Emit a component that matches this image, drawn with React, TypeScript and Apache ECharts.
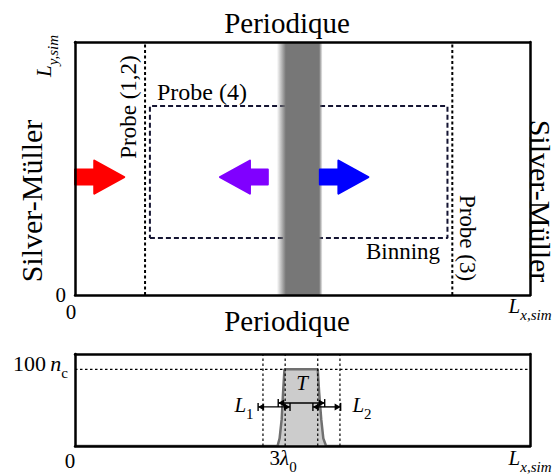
import React, { useEffect, useRef } from "react";
import * as echarts from "echarts";

// ---------- data (x in units of lambda_0, top y in units of L_y, bottom y in n_c) ----------
const LX = 6.56;
const LY = 1;
const N_MAX = 120;
const TOP_X_TICKS = [0, LX];
const TOP_Y_TICKS = [0];
const BOTTOM_X_TICKS = [0, 3, LX];
const BOTTOM_Y_TICKS = [100];

const PROBE_X = [1.01, 5.44]; // Probe (1,2) and Probe (3)
const BINNING_X = [1.08, 5.37];
const BINNING_Y = [0.225, 0.747];
const BAND_X = [2.91, 3.04, 3.52, 3.57]; // fade-in start, solid start, solid end, fade-out end

const ARROW_TAIL = [0, 2.78, 3.53];
const ARROW_TIP = [0.71, 2.09, 4.23];
const ARROW_Y = [0.466, 0.466, 0.466];

const PROFILE_X = [0, 2.92, 2.95, 2.98, 3.0, 3.02, 3.5, 3.52, 3.55, 3.58, 3.62, LX];
const PROFILE_N = [0, 0, 10, 35, 70, 100, 100, 70, 35, 10, 0, 0];
const DENSITY_LEVEL = 100;
const GUIDE_X = [2.71, 3.03, 3.5, 3.82];

const DIM_X0 = [2.93, 2.64, 3.43]; // T, L1, L2
const DIM_X1 = [3.6, 3.1, 3.83];
const DIM_N = [56, 51, 51];

// ---------- styles ----------
const FONT = '"Liberation Serif", "Times New Roman", serif';
const ARROW_COLORS = ["#ff0000", "#8000ff", "#0000ff"];

function mathRich(size: number) {
  const base = { fontFamily: FONT, color: "#000", fill: "#000", verticalAlign: "bottom" };
  const s = Math.round(size * 0.7);
  const drop = Math.round(size * 0.28);
  return {
    it: { ...base, fontStyle: "italic", fontSize: size, lineHeight: size, padding: [0, 0, drop, 0] },
    up: { ...base, fontSize: size, lineHeight: size, padding: [0, 0, drop, 0] },
    zero: { ...base, fontSize: size, lineHeight: size, padding: [0, 8, 0, 0] },
    zeroB: { ...base, fontSize: size, lineHeight: size, padding: [0, 10, 3, 0] },
    sub: { ...base, fontStyle: "italic", fontSize: s, lineHeight: s },
    subup: { ...base, fontSize: s, lineHeight: s },
  };
}

function frameAxes(gridIndex: number, min: number, max: number, kind: "x" | "y") {
  const common = {
    gridIndex,
    type: "value",
    min,
    max,
    z: 10,
    axisTick: { show: false },
    splitLine: { show: false },
    axisLine: { show: true, onZero: false, lineStyle: { color: "#000", width: 2.5 } },
  };
  return [
    { ...common, position: kind === "x" ? "bottom" : "left" },
    { ...common, position: kind === "x" ? "top" : "right", axisLabel: { show: false } },
  ];
}

function buildOption() {
  const topX = frameAxes(0, 0, LX, "x");
  const topY = frameAxes(0, 0, LY, "y");
  const botX = frameAxes(1, 0, LX, "x");
  const botY = frameAxes(1, 0, N_MAX, "y");

  (topX[0] as any).axisLabel = {
    customValues: TOP_X_TICKS,
    margin: 6,
    fontFamily: FONT,
    fontSize: 21,
    color: "#000",
    formatter: (v: number) => (v === 0 ? "{zero|0}" : "{it|L}{sub|x,sim}"),
    rich: mathRich(21),
  };
  (topY[0] as any).axisLabel = {
    customValues: TOP_Y_TICKS,
    margin: 9,
    fontFamily: FONT,
    fontSize: 21,
    color: "#000",
    formatter: () => "0",
  };
  (botX[0] as any).axisLabel = {
    customValues: BOTTOM_X_TICKS,
    margin: 7,
    fontFamily: FONT,
    fontSize: 21,
    color: "#000",
    formatter: (v: number) =>
      v === 0 ? "{zeroB|0}" : v === 3 ? "{up|3}{it|λ}{subup|0}" : "{it|L}{sub|x,sim}",
    rich: mathRich(21),
  };
  (botY[0] as any).axisLabel = {
    customValues: BOTTOM_Y_TICKS,
    margin: 7,
    fontFamily: FONT,
    fontSize: 22,
    color: "#000",
    formatter: (v: number) => `{up|${v}\u2009}{it|n}{subup|c}`,
    rich: mathRich(22),
  };

  const series: any[] = [];

  // probes (vertical dotted lines)
  PROBE_X.forEach((x) =>
    series.push({
      type: "line",
      xAxisIndex: 0,
      yAxisIndex: 0,
      data: [
        [x, 0],
        [x, LY],
      ],
      symbol: "none",
      lineStyle: { color: "#000", width: 2, type: [3, 2.5] },
      z: 3,
    })
  );
  // binning rectangle
  series.push({
    type: "line",
    xAxisIndex: 0,
    yAxisIndex: 0,
    data: [
      [BINNING_X[0], BINNING_Y[0]],
      [BINNING_X[1], BINNING_Y[0]],
      [BINNING_X[1], BINNING_Y[1]],
      [BINNING_X[0], BINNING_Y[1]],
      [BINNING_X[0], BINNING_Y[0]],
    ],
    symbol: "none",
    lineStyle: { color: "#141432", width: 2, type: [5, 3] },
    z: 3,
  });
  // gray target band
  series.push({
    type: "custom",
    xAxisIndex: 0,
    yAxisIndex: 0,
    z: 4,
    data: [[BAND_X[0], 0]],
    renderItem: (_p: any, api: any) => {
      const xs = BAND_X.map((v) => api.coord([v, 0])[0]);
      const yTop = api.coord([0, LY])[1];
      const yBot = api.coord([0, 0])[1];
      const w = xs[3] - xs[0];
      return {
        type: "rect",
        shape: { x: xs[0], y: yTop, width: w, height: yBot - yTop },
        style: {
          fill: new echarts.graphic.LinearGradient(0, 0, 1, 0, [
            { offset: 0, color: "rgba(119,119,119,0)" },
            { offset: (xs[1] - xs[0]) / w, color: "#777777" },
            { offset: (xs[2] - xs[0]) / w, color: "#777777" },
            { offset: 1, color: "rgba(119,119,119,0)" },
          ]),
        },
      };
    },
  });
  // block arrows
  series.push({
    type: "custom",
    xAxisIndex: 0,
    yAxisIndex: 0,
    z: 5,
    data: ARROW_TAIL.map((t, i) => [t, ARROW_TIP[i], ARROW_Y[i], i]),
    renderItem: (_p: any, api: any) => {
      const p0 = api.coord([api.value(0), api.value(2)]);
      const p1 = api.coord([api.value(1), api.value(2)]);
      const idx = api.value(3);
      const dir = p1[0] > p0[0] ? 1 : -1;
      const bx = p1[0] - dir * 30;
      const y = p0[1];
      const hs = 7.5;
      const hh = 16.5;
      return {
        type: "polygon",
        shape: {
          points: [
            [p0[0], y - hs],
            [bx, y - hs],
            [bx, y - hh],
            [p1[0], y],
            [bx, y + hh],
            [bx, y + hs],
            [p0[0], y + hs],
          ],
        },
        style: { fill: ARROW_COLORS[idx], stroke: ARROW_COLORS[idx], lineWidth: 2, lineJoin: "round" },
      };
    },
  });

  // bottom panel: guides
  series.push({
    type: "line",
    xAxisIndex: 2,
    yAxisIndex: 2,
    data: [
      [0, DENSITY_LEVEL],
      [LX, DENSITY_LEVEL],
    ],
    symbol: "none",
    lineStyle: { color: "#000", width: 1.2, type: [2.5, 2.5] },
    z: 3,
  });
  GUIDE_X.forEach((x) =>
    series.push({
      type: "line",
      xAxisIndex: 2,
      yAxisIndex: 2,
      data: [
        [x, 0],
        [x, N_MAX],
      ],
      symbol: "none",
      lineStyle: { color: "#000", width: 1.2, type: [2.5, 2.5] },
      z: 5,
    })
  );
  // density profile
  series.push({
    type: "line",
    xAxisIndex: 2,
    yAxisIndex: 2,
    data: PROFILE_X.map((x, i) => [x, PROFILE_N[i]]),
    symbol: "none",
    smooth: false,
    lineStyle: { color: "#707070", width: 2.5 },
    areaStyle: { color: "#cccccc", opacity: 1 },
    z: 4,
  });
  // dimension arrows
  series.push({
    type: "custom",
    xAxisIndex: 2,
    yAxisIndex: 2,
    z: 6,
    data: DIM_X0.map((x, i) => [x, DIM_X1[i], DIM_N[i]]),
    renderItem: (_p: any, api: any) => {
      const p0 = api.coord([api.value(0), api.value(2)]);
      const p1 = api.coord([api.value(1), api.value(2)]);
      const y = p0[1];
      const L = 6;
      const h = 3.5;
      const st = { stroke: "#000", lineWidth: 1.4 };
      return {
        type: "group",
        children: [
          { type: "line", shape: { x1: p0[0], y1: y, x2: p1[0], y2: y }, style: st },
          { type: "line", shape: { x1: p0[0], y1: y - 4, x2: p0[0], y2: y + 4 }, style: st },
          { type: "line", shape: { x1: p1[0], y1: y - 4, x2: p1[0], y2: y + 4 }, style: st },
          {
            type: "polygon",
            shape: { points: [[p0[0], y], [p0[0] + L, y - h], [p0[0] + L, y + h]] },
            style: { fill: "#000" },
          },
          {
            type: "polygon",
            shape: { points: [[p1[0], y], [p1[0] - L, y - h], [p1[0] - L, y + h]] },
            style: { fill: "#000" },
          },
        ],
      };
    },
  });

  const txt = (text: string, x: number, y: number, size: number, rotation = 0, extra: any = {}) => ({
    type: "text",
    x,
    y,
    rotation,
    z: 20,
    style: {
      text,
      fontFamily: FONT,
      fontSize: size,
      fill: "#000",
      align: "center",
      verticalAlign: "middle",
      ...extra,
    },
  });

  const graphic = [
    txt("Periodique", 287, 23, 29),
    txt("Periodique", 287, 321, 29),
    txt("Silver-Müller", 31, 201, 30, Math.PI / 2),
    txt("Silver-Müller", 540, 201, 30, -Math.PI / 2),
    txt("Probe (1,2)", 128, 107, 23, Math.PI / 2),
    txt("Probe (4)", 202, 92, 24),
    txt("Binning", 403, 251, 23),
    txt("Probe (3)", 467, 238, 23, -Math.PI / 2),
    txt("{it|L}{sub|y,sim}", 50, 56, 21, Math.PI / 2, { rich: mathRich(21) }),
    txt("{it|T}", 302, 389, 21, 0, { rich: mathRich(21) }),
    txt("{it|L}{subup|1}", 244, 411, 21, 0, { rich: mathRich(21) }),
    txt("{it|L}{subup|2}", 362, 411, 21, 0, { rich: mathRich(21) }),
  ];

  return {
    animation: false,
    backgroundColor: "#ffffff",
    grid: [
      { left: 75, top: 42, width: 455, height: 253, containLabel: false, outerBoundsMode: "none" },
      { left: 75, top: 354, width: 455, height: 92, containLabel: false, outerBoundsMode: "none" },
    ],
    xAxis: [...topX, ...botX],
    yAxis: [...topY, ...botY],
    series,
    graphic,
  };
}

export default function App() {
  const ref = useRef<HTMLDivElement>(null);
  useEffect(() => {
    if (!ref.current) return;
    const chart = echarts.init(ref.current, null, { renderer: "svg" });
    chart.setOption(buildOption() as any);
    return () => chart.dispose();
  }, []);
  return (
    <div
      ref={ref}
      style={{ position: "absolute", left: 0, top: 0, width: 556, height: 474 }}
    />
  );
}
